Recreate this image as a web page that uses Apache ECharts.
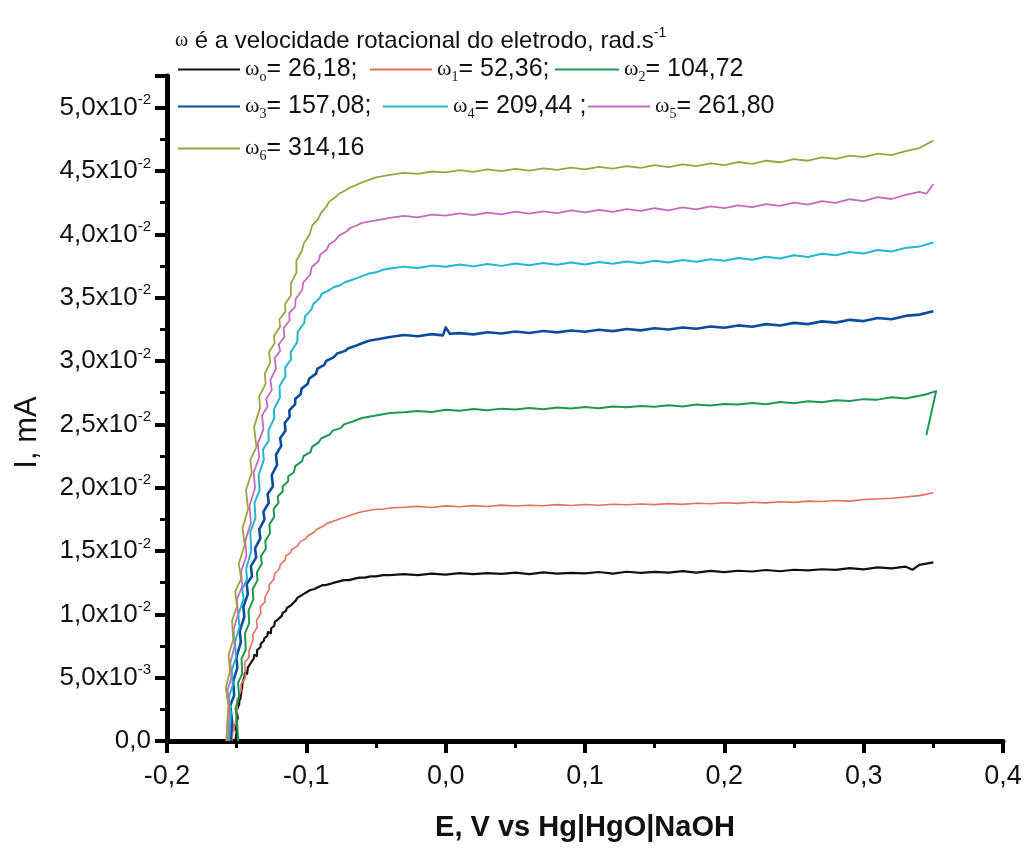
<!DOCTYPE html>
<html>
<head>
<meta charset="utf-8">
<script src="https://cdn.jsdelivr.net/npm/echarts@6/dist/echarts.min.js"></script>
<style>
  html, body { margin: 0; padding: 0; background: #fff; }
  #chart { width: 1026px; height: 850px; }
</style>
</head>
<body>
<div id="chart"></div>
<script>
// Rotating disc electrode: current vs potential at seven rotation rates.
// Each series: [E (V vs Hg|HgO|NaOH), I (mA)]
const seriesNames = ['ω0', 'ω1', 'ω2', 'ω3', 'ω4', 'ω5', 'ω6'];
const omegaSubs = ['o', '1', '2', '3', '4', '5', '6'];
const omegaValues = ['26,18', '52,36', '104,72', '157,08', '209,44', '261,80', '314,16'];
const omegaSuffix = [';', ';', '', ';', ' ;', '', ''];
const xTicks = { min: -0.2, max: 0.4, interval: 0.1 };
const yTicks = { min: 0, max: 0.0525, interval: 0.005 };

const curve0 = [
  [-0.1510,0.0000],[-0.1500,0.0007],[-0.1508,0.0012],[-0.1492,0.0018],[-0.1500,0.0024],[-0.1482,0.0029],
  [-0.1478,0.0036],[-0.1474,0.0033],[-0.1462,0.0042],[-0.1458,0.0046],[-0.1445,0.0050],[-0.1440,0.0054],
  [-0.1425,0.0053],[-0.1420,0.0058],[-0.1402,0.0061],[-0.1395,0.0060],[-0.1378,0.0065],[-0.1373,0.0068],
  [-0.1356,0.0067],[-0.1352,0.0072],[-0.1330,0.0074],[-0.1326,0.0077],[-0.1305,0.0079],[-0.1302,0.0081],
  [-0.1280,0.0083],[-0.1276,0.0086],[-0.1255,0.0085],[-0.1252,0.0089],[-0.1230,0.0091],[-0.1226,0.0094],
  [-0.1203,0.0096],[-0.1199,0.0095],[-0.1175,0.0099],[-0.1170,0.0101],[-0.1145,0.0103],[-0.1140,0.0105],
  [-0.1112,0.0107],[-0.1105,0.0108],[-0.1075,0.0111],[-0.1065,0.0113],[-0.1035,0.0115],[-0.1025,0.0116],
  [-0.0990,0.0118],[-0.0975,0.0119],[-0.0940,0.0120],[-0.0925,0.0121],[-0.0885,0.0123],[-0.0865,0.0123],
  [-0.0830,0.0124],[-0.0800,0.0125],[-0.0765,0.0126],[-0.0730,0.0127],[-0.0695,0.0127],[-0.0660,0.0128],
  [-0.0620,0.0129],[-0.0580,0.0129],[-0.0540,0.0130],[-0.0500,0.0130],[-0.0450,0.0131],[-0.0400,0.0131],
  [-0.030,0.01318],[-0.020,0.01310],[-0.010,0.01322],[0.000,0.01314],[0.010,0.01326],[0.020,0.01317],
  [0.030,0.01325],[0.040,0.01319],[0.050,0.01329],[0.060,0.01318],[0.070,0.01331],[0.080,0.01322],
  [0.090,0.01328],[0.100,0.01323],[0.110,0.01334],[0.120,0.01322],[0.130,0.01336],[0.140,0.01327],
  [0.150,0.01335],[0.160,0.01329],[0.170,0.01341],[0.180,0.01330],[0.190,0.01343],[0.200,0.01333],
  [0.210,0.01344],[0.220,0.01338],[0.230,0.01350],[0.240,0.01340],[0.250,0.01352],[0.260,0.01347],
  [0.270,0.01356],[0.280,0.01351],[0.290,0.01365],[0.300,0.01355],[0.310,0.01371],[0.320,0.01363],
  [0.330,0.01377],[0.335,0.01352],[0.340,0.01390],[0.350,0.01410]
];

const curve1 = [
  [-0.1535,0.0000],[-0.1522,0.0013],[-0.1520,0.0008],[-0.1495,0.0024],[-0.1498,0.0032],[-0.1468,0.0040],
  [-0.1468,0.0045],[-0.1438,0.0050],[-0.1442,0.0062],[-0.1412,0.0066],[-0.1412,0.0071],[-0.1382,0.0080],
  [-0.1385,0.0084],[-0.1352,0.0090],[-0.1358,0.0095],[-0.1326,0.0101],[-0.1330,0.0106],[-0.1296,0.0110],
  [-0.1298,0.0113],[-0.1266,0.0120],[-0.1268,0.0123],[-0.1232,0.0128],[-0.1228,0.0132],[-0.1192,0.0136],
  [-0.1188,0.0139],[-0.1152,0.0143],[-0.1148,0.0146],[-0.1112,0.0149],[-0.1106,0.0151],[-0.1062,0.0154],
  [-0.1048,0.0157],[-0.1002,0.0160],[-0.0988,0.0162],[-0.0942,0.0165],[-0.0928,0.0167],[-0.0872,0.0170],
  [-0.0848,0.0172],[-0.0792,0.0174],[-0.0768,0.0175],[-0.0712,0.0177],[-0.0688,0.0178],[-0.0635,0.0180],
  [-0.0600,0.0181],[-0.0550,0.0182],[-0.0500,0.0183],[-0.0450,0.0183],[-0.0400,0.0184],
  [-0.030,0.01845],[-0.020,0.01852],[-0.010,0.01844],[0.000,0.01856],[0.010,0.01849],[0.020,0.01858],
  [0.030,0.01851],[0.040,0.01862],[0.050,0.01855],[0.060,0.01861],[0.070,0.01857],[0.080,0.01866],
  [0.090,0.01859],[0.100,0.01867],[0.110,0.01861],[0.120,0.01869],[0.130,0.01865],[0.140,0.01871],
  [0.150,0.01866],[0.160,0.01874],[0.170,0.01868],[0.180,0.01877],[0.190,0.01873],[0.200,0.01881],
  [0.210,0.01876],[0.220,0.01885],[0.230,0.01880],[0.240,0.01889],[0.250,0.01884],[0.260,0.01894],
  [0.270,0.01891],[0.280,0.01899],[0.290,0.01894],[0.300,0.01906],[0.310,0.01911],[0.320,0.01916],
  [0.330,0.01926],[0.340,0.01937],[0.350,0.01960]
];

const curve2 = [
  [-0.1490,0.0000],[-0.1495,0.0012],[-0.1508,0.0026],[-0.1482,0.0035],[-0.1490,0.0046],[-0.1460,0.0053],
  [-0.1465,0.0065],[-0.1435,0.0072],[-0.1440,0.0085],[-0.1410,0.0093],[-0.1415,0.0103],[-0.1380,0.0112],
  [-0.1385,0.0120],[-0.1350,0.0127],[-0.1355,0.0133],[-0.1320,0.0140],[-0.1325,0.0146],[-0.1290,0.0152],
  [-0.1295,0.0158],[-0.1260,0.0164],[-0.1265,0.0171],[-0.1230,0.0177],[-0.1235,0.0183],[-0.1200,0.0188],
  [-0.1205,0.0193],[-0.1170,0.0197],[-0.1170,0.0201],[-0.1130,0.0205],[-0.1130,0.0209],[-0.1090,0.0212],
  [-0.1080,0.0217],[-0.1030,0.0221],[-0.1020,0.0225],[-0.0970,0.0228],[-0.0960,0.0232],[-0.0910,0.0236],
  [-0.0892,0.0239],[-0.0832,0.0242],[-0.0810,0.0245],[-0.0752,0.0247],[-0.0730,0.0250],[-0.0672,0.0252],
  [-0.0650,0.0253],[-0.0600,0.0255],[-0.0550,0.0256],[-0.0500,0.0257],[-0.0450,0.0258],[-0.0400,0.0259],
  [-0.030,0.02595],[-0.020,0.02606],[-0.010,0.02597],[0.000,0.02615],[0.010,0.02607],[0.020,0.02621],
  [0.030,0.02611],[0.040,0.02624],[0.050,0.02618],[0.060,0.02629],[0.070,0.02619],[0.080,0.02633],
  [0.090,0.02625],[0.100,0.02636],[0.110,0.02627],[0.120,0.02641],[0.130,0.02634],[0.140,0.02644],
  [0.150,0.02638],[0.160,0.02651],[0.170,0.02641],[0.180,0.02657],[0.190,0.02649],[0.200,0.02661],
  [0.210,0.02656],[0.220,0.02669],[0.230,0.02659],[0.240,0.02676],[0.250,0.02667],[0.260,0.02683],
  [0.270,0.02675],[0.280,0.02691],[0.290,0.02685],[0.300,0.02699],[0.310,0.02695],[0.320,0.02713],
  [0.330,0.02704],[0.340,0.02726],[0.345,0.02738],[0.352,0.02762],[0.345,0.02415]
];

const curve3 = [
  [-0.1545,0.0000],[-0.1532,0.0015],[-0.1546,0.0028],[-0.1518,0.0036],[-0.1525,0.0047],[-0.1495,0.0058],
  [-0.1502,0.0066],[-0.1470,0.0078],[-0.1478,0.0087],[-0.1445,0.0098],[-0.1452,0.0106],[-0.1420,0.0116],
  [-0.1428,0.0124],[-0.1390,0.0130],[-0.1398,0.0138],[-0.1360,0.0145],[-0.1368,0.0152],[-0.1330,0.0160],
  [-0.1338,0.0167],[-0.1300,0.0175],[-0.1308,0.0181],[-0.1270,0.0188],[-0.1278,0.0195],[-0.1240,0.0201],
  [-0.1248,0.0210],[-0.1210,0.0218],[-0.1218,0.0226],[-0.1180,0.0233],[-0.1188,0.0239],[-0.1150,0.0245],
  [-0.1155,0.0251],[-0.1120,0.0256],[-0.1122,0.0261],[-0.1080,0.0266],[-0.1080,0.0270],[-0.1040,0.0274],
  [-0.1035,0.0278],[-0.0990,0.0282],[-0.0980,0.0286],[-0.0930,0.0290],[-0.0920,0.0294],[-0.0870,0.0297],
  [-0.0858,0.0300],[-0.0802,0.0303],[-0.0778,0.0306],[-0.0722,0.0308],[-0.0698,0.0310],[-0.0645,0.0312],
  [-0.0600,0.0314],[-0.0550,0.0316],[-0.0500,0.0317],[-0.0450,0.0318],[-0.0400,0.0319],
  [-0.030,0.03205],[-0.020,0.03195],[-0.010,0.03212],[-0.002,0.03202],[0.000,0.03265],[0.003,0.03215],
  [0.010,0.03220],[0.020,0.03210],[0.030,0.03227],[0.040,0.03217],[0.050,0.03233],[0.060,0.03221],
  [0.070,0.03237],[0.080,0.03226],[0.090,0.03241],[0.100,0.03231],[0.110,0.03247],[0.120,0.03236],
  [0.130,0.03252],[0.140,0.03242],[0.150,0.03259],[0.160,0.03249],[0.170,0.03265],[0.180,0.03255],
  [0.190,0.03273],[0.200,0.03262],[0.210,0.03281],[0.220,0.03270],[0.230,0.03291],[0.240,0.03280],
  [0.250,0.03301],[0.260,0.03291],[0.270,0.03313],[0.280,0.03303],[0.290,0.03325],[0.300,0.03315],
  [0.310,0.03339],[0.320,0.03329],[0.330,0.03356],[0.340,0.03366],[0.350,0.03392]
];

const curve4 = [
  [-0.1555,0.0000],[-0.1542,0.0022],[-0.1556,0.0035],[-0.1528,0.0044],[-0.1535,0.0056],[-0.1505,0.0066],
  [-0.1512,0.0078],[-0.1480,0.0090],[-0.1488,0.0100],[-0.1450,0.0112],[-0.1460,0.0120],[-0.1425,0.0128],
  [-0.1432,0.0136],[-0.1395,0.0150],[-0.1402,0.0165],[-0.1365,0.0176],[-0.1372,0.0188],[-0.1335,0.0198],
  [-0.1342,0.0210],[-0.1305,0.0222],[-0.1312,0.0230],[-0.1270,0.0237],[-0.1272,0.0245],[-0.1230,0.0255],
  [-0.1232,0.0262],[-0.1190,0.0271],[-0.1192,0.0280],[-0.1150,0.0288],[-0.1152,0.0295],[-0.1110,0.0301],
  [-0.1112,0.0307],[-0.1065,0.0315],[-0.1062,0.0323],[-0.1015,0.0330],[-0.1010,0.0335],[-0.0962,0.0341],
  [-0.0950,0.0345],[-0.0902,0.0350],[-0.0890,0.0353],[-0.0835,0.0356],[-0.0808,0.0358],[-0.0755,0.0360],
  [-0.0728,0.0362],[-0.0675,0.0364],[-0.0648,0.0365],[-0.0600,0.0367],[-0.0550,0.0369],[-0.0500,0.0370],
  [-0.0450,0.0372],[-0.0400,0.0373],
  [-0.030,0.03745],[-0.020,0.03734],[-0.010,0.03753],[0.000,0.03744],[0.010,0.03762],[0.020,0.03747],
  [0.030,0.03766],[0.040,0.03751],[0.050,0.03769],[0.060,0.03756],[0.070,0.03773],[0.080,0.03759],
  [0.090,0.03777],[0.100,0.03761],[0.110,0.03781],[0.120,0.03767],[0.130,0.03786],[0.140,0.03771],
  [0.150,0.03791],[0.160,0.03777],[0.170,0.03797],[0.180,0.03783],[0.190,0.03804],[0.200,0.03791],
  [0.210,0.03813],[0.220,0.03799],[0.230,0.03823],[0.240,0.03809],[0.250,0.03835],[0.260,0.03821],
  [0.270,0.03847],[0.280,0.03835],[0.290,0.03861],[0.300,0.03849],[0.310,0.03876],[0.320,0.03865],
  [0.330,0.03893],[0.340,0.03903],[0.350,0.03935]
];

const curve5 = [
  [-0.1565,0.0000],[-0.1552,0.0025],[-0.1566,0.0040],[-0.1538,0.0050],[-0.1545,0.0062],[-0.1515,0.0075],
  [-0.1522,0.0088],[-0.1490,0.0100],[-0.1498,0.0112],[-0.1460,0.0122],[-0.1468,0.0134],[-0.1430,0.0146],
  [-0.1438,0.0158],[-0.1398,0.0172],[-0.1408,0.0186],[-0.1368,0.0200],[-0.1378,0.0212],[-0.1338,0.0224],
  [-0.1348,0.0235],[-0.1308,0.0246],[-0.1318,0.0257],[-0.1278,0.0264],[-0.1288,0.0270],[-0.1248,0.0277],
  [-0.1258,0.0285],[-0.1218,0.0294],[-0.1228,0.0302],[-0.1188,0.0308],[-0.1198,0.0313],[-0.1158,0.0319],
  [-0.1163,0.0326],[-0.1120,0.0332],[-0.1122,0.0338],[-0.1080,0.0343],[-0.1077,0.0349],[-0.1030,0.0356],
  [-0.1022,0.0362],[-0.0972,0.0368],[-0.0962,0.0374],[-0.0912,0.0379],[-0.0900,0.0384],[-0.0852,0.0388],
  [-0.0838,0.0392],[-0.0795,0.0395],[-0.0765,0.0399],[-0.0715,0.0402],[-0.0685,0.0405],[-0.0640,0.0407],
  [-0.0600,0.0409],[-0.0550,0.0410],[-0.0500,0.0411],[-0.0450,0.0412],[-0.0400,0.0413],
  [-0.030,0.04145],[-0.020,0.04134],[-0.010,0.04156],[0.000,0.04147],[0.010,0.04166],[0.020,0.04151],
  [0.030,0.04171],[0.040,0.04157],[0.050,0.04179],[0.060,0.04163],[0.070,0.04181],[0.080,0.04167],
  [0.090,0.04189],[0.100,0.04173],[0.110,0.04193],[0.120,0.04177],[0.130,0.04199],[0.140,0.04185],
  [0.150,0.04206],[0.160,0.04189],[0.170,0.04213],[0.180,0.04197],[0.190,0.04221],[0.200,0.04207],
  [0.210,0.04229],[0.220,0.04214],[0.230,0.04239],[0.240,0.04224],[0.250,0.04251],[0.260,0.04235],
  [0.270,0.04263],[0.280,0.04249],[0.290,0.04277],[0.300,0.04263],[0.310,0.04293],[0.320,0.04279],
  [0.330,0.04311],[0.340,0.04336],[0.345,0.04321],[0.350,0.04395]
];

const curve6 = [
  [-0.1575,0.0000],[-0.1560,0.0028],[-0.1578,0.0042],[-0.1548,0.0055],[-0.1558,0.0068],[-0.1525,0.0080],
  [-0.1533,0.0095],[-0.1498,0.0106],[-0.1510,0.0118],[-0.1468,0.0128],[-0.1485,0.0140],[-0.1442,0.0155],
  [-0.1458,0.0168],[-0.1418,0.0183],[-0.1433,0.0198],[-0.1392,0.0212],[-0.1402,0.0222],[-0.1358,0.0232],
  [-0.1375,0.0248],[-0.1332,0.0263],[-0.1338,0.0272],[-0.1292,0.0282],[-0.1298,0.0290],[-0.1258,0.0299],
  [-0.1268,0.0307],[-0.1228,0.0314],[-0.1232,0.0320],[-0.1188,0.0327],[-0.1193,0.0333],[-0.1150,0.0339],
  [-0.1152,0.0345],[-0.1110,0.0352],[-0.1112,0.0361],[-0.1070,0.0370],[-0.1072,0.0379],[-0.1032,0.0387],
  [-0.1018,0.0393],[-0.0975,0.0400],[-0.0958,0.0407],[-0.0915,0.0412],[-0.0895,0.0417],[-0.0855,0.0422],
  [-0.0835,0.0426],[-0.0795,0.0429],[-0.0765,0.0432],[-0.0715,0.0435],[-0.0685,0.0437],[-0.0640,0.0439],
  [-0.0600,0.0441],[-0.0550,0.0443],[-0.0500,0.0445],[-0.0450,0.0446],[-0.0400,0.0447],
  [-0.030,0.04485],[-0.020,0.04477],[-0.010,0.04496],[0.000,0.04489],[0.010,0.04507],[0.020,0.04493],
  [0.030,0.04513],[0.040,0.04499],[0.050,0.04517],[0.060,0.04503],[0.070,0.04521],[0.080,0.04509],
  [0.090,0.04527],[0.100,0.04513],[0.110,0.04533],[0.120,0.04519],[0.130,0.04539],[0.140,0.04525],
  [0.150,0.04546],[0.160,0.04531],[0.170,0.04553],[0.180,0.04539],[0.190,0.04561],[0.200,0.04547],
  [0.210,0.04571],[0.220,0.04557],[0.230,0.04581],[0.240,0.04569],[0.250,0.04594],[0.260,0.04581],
  [0.270,0.04607],[0.280,0.04595],[0.290,0.04621],[0.300,0.04609],[0.310,0.04637],[0.320,0.04625],
  [0.330,0.04656],[0.340,0.04681],[0.350,0.04740]
];

const curves = [curve0, curve1, curve2, curve3, curve4, curve5, curve6];
const colors = ['#111111', '#e2735a', '#1e9850', '#0b4c9c', '#22b6d0', '#c46ac1', '#9fa23d'];
const widths = [2.2, 1.6, 2.0, 2.6, 2.0, 1.8, 1.8];

const SANS = 'Liberation Sans, Arial, sans-serif';
const SERIF = 'Liberation Serif, Times New Roman, serif';

// legend placement: [left of the line, row centre y, line length]
const legendPlace = [
  [178, 67, 62], [370, 67, 62], [555, 67, 64],
  [178, 104, 62], [383, 104, 65], [588, 104, 62],
  [178, 146, 62]
];

const legendRich = {
  w: { fontFamily: SERIF, fontSize: 22, color: '#111', lineHeight: 30, verticalAlign: 'middle' },
  sub: { fontFamily: SERIF, fontSize: 14, color: '#111', lineHeight: 14, verticalAlign: 'bottom' },
  t: { fontFamily: SANS, fontSize: 25, color: '#111', lineHeight: 30, verticalAlign: 'middle' }
};

function yLabel(v) {
  if (Math.abs(v) < 1e-12) return '{m|0,0}';
  let e = Math.floor(Math.log10(v) + 1e-9);
  let m = Math.round(v / Math.pow(10, e) * 10) / 10;
  if (m >= 10) { m = m / 10; e += 1; }
  return '{m|' + m.toFixed(1).replace('.', ',') + 'x10}{s|' + e + '}';
}

const chart = echarts.init(document.getElementById('chart'), null, { renderer: 'canvas' });

chart.setOption({
  backgroundColor: '#ffffff',
  animation: false,
  title: {
    left: 175, top: 26, padding: 0,
    text: '{w|ω}{t| é a velocidade rotacional do eletrodo, rad.s}{s|-1}',
    textStyle: {
      fontWeight: 'normal',
      rich: {
        w: { fontFamily: SERIF, fontSize: 20, fontWeight: 'normal', color: '#111', lineHeight: 30, verticalAlign: 'middle' },
        t: { fontFamily: SANS, fontSize: 24, fontWeight: 'normal', color: '#111', lineHeight: 30, verticalAlign: 'middle' },
        s: { fontFamily: SANS, fontSize: 14, fontWeight: 'normal', color: '#111', lineHeight: 14, verticalAlign: 'top' }
      }
    }
  },
  legend: seriesNames.map((n, i) => ({
    data: [n],
    left: legendPlace[i][0],
    top: legendPlace[i][1] - 10,
    padding: 0,
    icon: 'rect',
    itemWidth: legendPlace[i][2],
    itemHeight: 2,
    selectedMode: false,
    formatter: () => '{w|ω}{sub|' + omegaSubs[i] + '}{t|= ' + omegaValues[i] + omegaSuffix[i] + '}',
    textStyle: { rich: legendRich }
  })),
  grid: { left: 167, right: 23, top: 76, bottom: 109, containLabel: false },
  xAxis: {
    type: 'value',
    min: xTicks.min, max: xTicks.max, interval: xTicks.interval,
    name: 'E, V vs Hg|HgO|NaOH',
    nameLocation: 'middle',
    nameGap: 72,
    nameTextStyle: { fontFamily: SANS, fontSize: 29, fontWeight: 'bold', color: '#111' },
    axisLine: { onZero: false, lineStyle: { color: '#000', width: 5 } },
    axisTick: { inside: false, length: 12, lineStyle: { color: '#000', width: 4 } },
    minorTick: { show: true, splitNumber: 2, length: 7, lineStyle: { color: '#000', width: 3 } },
    splitLine: { show: false },
    axisLabel: {
      margin: 22, fontFamily: SANS, fontSize: 27, color: '#111',
      formatter: v => (Math.abs(v) < 1e-9 ? 0 : v).toFixed(1).replace('.', ',')
    }
  },
  yAxis: {
    type: 'value',
    min: yTicks.min, max: yTicks.max, interval: yTicks.interval,
    name: 'I, mA',
    nameLocation: 'middle',
    nameGap: 124,
    nameRotate: 90,
    nameTextStyle: { fontFamily: SANS, fontSize: 31, color: '#111', padding: [0, 48, 0, 0] },
    axisLine: { onZero: false, lineStyle: { color: '#000', width: 5 } },
    axisTick: { inside: false, length: 12, lineStyle: { color: '#000', width: 4 } },
    minorTick: { show: true, splitNumber: 2, length: 7, lineStyle: { color: '#000', width: 3 } },
    splitLine: { show: false },
    axisLabel: {
      margin: 16,
      showMaxLabel: false,
      formatter: yLabel,
      rich: {
        m: { fontFamily: SANS, fontSize: 26, color: '#111', lineHeight: 30, verticalAlign: 'middle' },
        s: { fontFamily: SANS, fontSize: 15, color: '#111', lineHeight: 15, verticalAlign: 'top' }
      }
    }
  },
  series: curves.map((d, i) => ({
    name: seriesNames[i],
    type: 'line',
    data: d,
    showSymbol: false,
    symbol: 'none',
    smooth: false,
    clip: true,
    color: colors[i],
    lineStyle: { color: colors[i], width: widths[i], join: 'round' },
    z: 2 + i
  }))
});
</script>
</body>
</html>
